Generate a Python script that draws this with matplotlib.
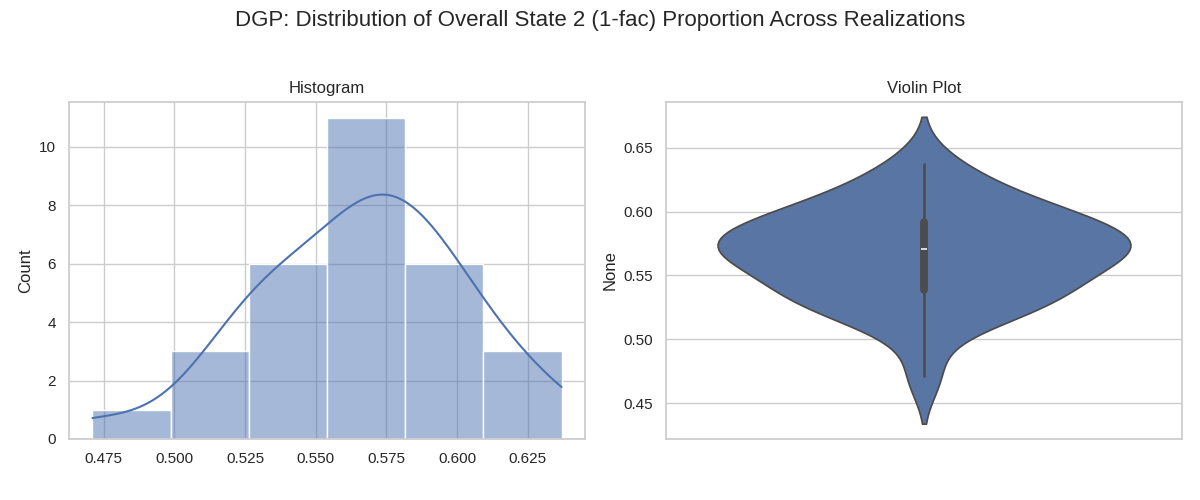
import numpy as np
import pandas as pd
import seaborn as sns
import matplotlib
matplotlib.use("Agg")
import matplotlib.pyplot as plt

state2_prop = [
    0.471,
    0.509, 0.517, 0.523,
    0.530, 0.533, 0.536, 0.538, 0.541, 0.551,
    0.556, 0.559, 0.562, 0.565, 0.570, 0.571, 0.574, 0.576, 0.578, 0.579, 0.581,
    0.584, 0.5945, 0.596, 0.598, 0.601, 0.604,
    0.616, 0.624, 0.637,
]

sns.set_theme(style="whitegrid")
plt.rcParams["font.family"] = ["Liberation Sans", "DejaVu Sans"]
props = pd.Series(state2_prop)

fig, axes = plt.subplots(1, 2, figsize=(12, 5))
fig.suptitle("DGP: Distribution of Overall State 2 (1-fac) Proportion Across Realizations", fontsize=16)

sns.histplot(props, kde=True, ax=axes[0])
axes[0].set_title("Histogram")
axes[0].set_xlabel("")

sns.violinplot(y=props, ax=axes[1])
axes[1].set_title("Violin Plot")
axes[1].set_ylabel("None")

plt.subplots_adjust(left=0.0575, right=0.985, top=0.797, bottom=0.122, wspace=0.157)
plt.savefig("out.png", dpi=100)
